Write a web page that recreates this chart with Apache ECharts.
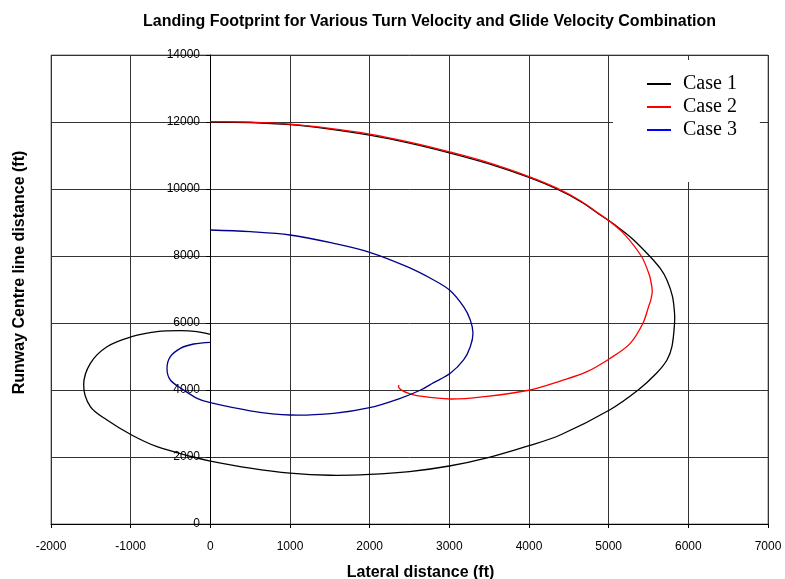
<!DOCTYPE html>
<html>
<head>
<meta charset="utf-8">
<script src="https://cdn.jsdelivr.net/npm/echarts@6/dist/echarts.min.js"></script>
<style>
html,body{margin:0;padding:0;background:#fff;}
#chart{width:785px;height:579px;}
</style>
</head>
<body>
<div id="chart"></div>
<script>
const titleText = 'Landing Footprint for Various Turn Velocity and Glide Velocity Combination';
const xAxisName = 'Lateral distance (ft)';
const yAxisName = 'Runway Centre line distance (ft)';
const seriesNames = ['Case 1', 'Case 2', 'Case 3'];

const case1X = [0, 500, 1000, 1500, 2000, 2500, 3000, 3500, 4000, 4350, 4650, 4895, 5100, 5300, 5522, 5650, 5731, 5800, 5827, 5827, 5794, 5732, 5600, 5370, 5011, 4392, 4000, 3500, 3000, 2500, 2000, 1500, 1000, 500, 0, -213, -669, -988, -1297, -1506, -1590, -1506, -1297, -988, -669, -376, -167, 0];
const case1Y = [12000, 11985, 11920, 11790, 11610, 11370, 11080, 10750, 10345, 10000, 9620, 9224, 8890, 8510, 7979, 7620, 7283, 6800, 6289, 5991, 5293, 4895, 4500, 4000, 3403, 2657, 2338, 1990, 1731, 1565, 1480, 1455, 1520, 1670, 1880, 2000, 2308, 2657, 3104, 3502, 4150, 4797, 5293, 5591, 5741, 5770, 5741, 5662];

const case2X = [0, 500, 1000, 1500, 2000, 2500, 3000, 3500, 4000, 4350, 4650, 4895, 5000, 5187, 5409, 5501, 5525, 5547, 5530, 5501, 5430, 5271, 5011, 4727, 4392, 4016, 3430, 3012, 2594, 2489, 2400, 2363, 2368];
const case2Y = [12010, 11995, 11935, 11810, 11640, 11400, 11110, 10780, 10370, 10025, 9640, 9235, 9060, 8677, 8000, 7500, 7300, 6950, 6700, 6487, 5991, 5393, 4935, 4547, 4268, 4000, 3800, 3731, 3830, 3900, 3995, 4080, 4149];

const case3X = [0, 502, 1000, 1548, 2000, 2469, 2803, 3012, 3179, 3263, 3297, 3263, 3179, 3012, 2803, 2640, 2384, 2000, 1548, 1000, 500, 0, -167, -335, -502, -544, -502, -376, -209, 0];
const case3Y = [8776, 8725, 8627, 8378, 8110, 7680, 7283, 6965, 6487, 6090, 5692, 5293, 4896, 4498, 4220, 4000, 3751, 3472, 3304, 3254, 3380, 3620, 3752, 4000, 4298, 4647, 4995, 5244, 5373, 5424];

const xTicks = {min: -2000, max: 7000, interval: 1000};
const yTicks = {min: 0, max: 14000, interval: 2000};

function zip(xs, ys) { return xs.map((x, i) => [x, ys[i]]); }

const chart = echarts.init(document.getElementById('chart'), null, {renderer: 'canvas'});
const sans = 'Liberation Sans, Arial, sans-serif';
const serif = 'Liberation Serif, Times New Roman, serif';

function curveSeries(name, xs, ys, legendColor, strokeColor) {
  return {
    name: name,
    type: 'custom',
    coordinateSystem: 'cartesian2d',
    data: zip(xs, ys),
    encode: {x: 0, y: 1},
    itemStyle: {color: legendColor},
    clip: true,
    renderItem: function (params, api) {
      if (params.dataIndex !== 0) return null;
      const pts = xs.map((x, i) => api.coord([x, ys[i]]));
      return {
        type: 'polyline',
        shape: {points: pts, smooth: 0.35},
        style: {stroke: strokeColor, lineWidth: 1.3, fill: null}
      };
    }
  };
}

chart.setOption({
  animation: false,
  backgroundColor: '#fff',
  title: {
    text: titleText,
    left: 138,
    top: 9,
    textStyle: {fontFamily: sans, fontSize: 16, fontWeight: 'bold', color: '#000'}
  },
  grid: {
    left: 51, right: 17, top: 55, bottom: 55,
    show: true, borderColor: '#808080', borderWidth: 1, backgroundColor: 'transparent',
    containLabel: false, outerBoundsMode: 'none'
  },
  legend: {
    orient: 'vertical',
    left: 613, top: 60,
    padding: [14, 23, 42, 34],
    backgroundColor: '#fff',
    icon: 'rect',
    itemWidth: 24, itemHeight: 2, itemGap: 3,
    align: 'left',
    textStyle: {fontFamily: serif, fontSize: 20, color: '#000', padding: [0, 0, 0, 7]},
    data: seriesNames
  },
  xAxis: {
    type: 'value',
    min: xTicks.min, max: xTicks.max, interval: xTicks.interval,
    name: xAxisName, nameLocation: 'middle', nameGap: 41,
    nameTextStyle: {fontFamily: sans, fontSize: 16, fontWeight: 'bold', color: '#000', padding: [0, 0, 0, 22]},
    axisLine: {show: true, onZero: true, lineStyle: {color: '#000', width: 1}},
    axisTick: {show: true, inside: false, length: 4, lineStyle: {color: '#000'}},
    axisLabel: {fontFamily: sans, fontSize: 12, color: '#000', margin: 17, formatter: v => String(v)},
    splitLine: {show: true, lineStyle: {color: '#333', width: 1}}
  },
  yAxis: {
    type: 'value',
    position: 'left',
    offset: -159,
    min: yTicks.min, max: yTicks.max, interval: yTicks.interval,
    name: yAxisName, nameLocation: 'middle', nameGap: 182,
    nameTextStyle: {fontFamily: sans, fontSize: 16, fontWeight: 'bold', color: '#000', padding: [0, 0, 0, 34]},
    axisLine: {show: true, onZero: false, lineStyle: {color: '#000', width: 1}},
    axisTick: {show: true, inside: false, length: 4, lineStyle: {color: '#000'}},
    axisLabel: {fontFamily: sans, fontSize: 12, color: '#000', margin: 10, formatter: v => String(v)},
    splitLine: {show: true, lineStyle: {color: '#333', width: 1}}
  },
  series: [
    curveSeries(seriesNames[0], case1X, case1Y, '#000000', '#000000'),
    curveSeries(seriesNames[1], case2X, case2Y, '#ff0000', '#ff0000'),
    curveSeries(seriesNames[2], case3X, case3Y, '#0000ff', '#00008b')
  ]
});
</script>
</body>
</html>
